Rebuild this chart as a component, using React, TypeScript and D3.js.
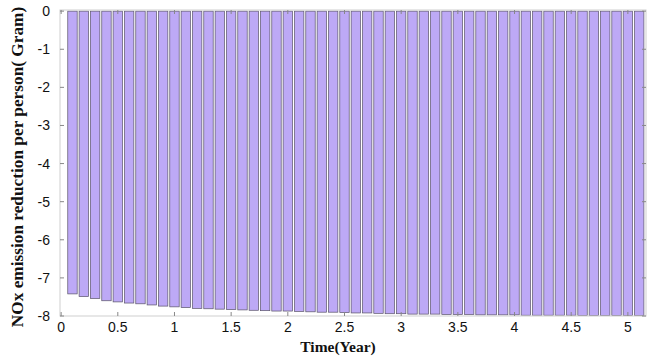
import React from "react";
import * as d3 from "d3";

const years: number[] = [
  0.1, 0.2, 0.3, 0.4, 0.5, 0.6, 0.7, 0.8, 0.9, 1.0,
  1.1, 1.2, 1.3, 1.4, 1.5, 1.6, 1.7, 1.8, 1.9, 2.0,
  2.1, 2.2, 2.3, 2.4, 2.5, 2.6, 2.7, 2.8, 2.9, 3.0,
  3.1, 3.2, 3.3, 3.4, 3.5, 3.6, 3.7, 3.8, 3.9, 4.0,
  4.1, 4.2, 4.3, 4.4, 4.5, 4.6, 4.7, 4.8, 4.9, 5.0, 5.1,
];

const reduction: number[] = [
  -7.42, -7.49, -7.54, -7.6, -7.63, -7.66, -7.68, -7.71, -7.74, -7.76,
  -7.78, -7.8, -7.81, -7.82, -7.83, -7.84, -7.85, -7.86, -7.87, -7.87,
  -7.88, -7.89, -7.9, -7.9, -7.91, -7.92, -7.92, -7.93, -7.94, -7.94,
  -7.95, -7.95, -7.95, -7.96, -7.96, -7.96, -7.97, -7.97, -7.97, -7.97,
  -7.98, -7.98, -7.98, -7.98, -7.98, -7.99, -7.99, -7.99, -7.99, -7.99, -7.99,
];

const xTicks: number[] = [0, 0.5, 1, 1.5, 2, 2.5, 3, 3.5, 4, 4.5, 5];
const yTicks: number[] = [0, -1, -2, -3, -4, -5, -6, -7, -8];

const xLabel = "Time(Year)";
const yLabel = "NOx emission reduction per person( Gram)";

const W = 648;
const H = 357;
const left = 60;
const right = 646;
const top = 10;
const bottom = 316;

export default function App() {
  const x = d3.scaleLinear().domain([-0.01, 5.16]).range([left, right]);
  const y = d3.scaleLinear().domain([-8, 0.03]).range([bottom, top]);
  const barW = x(0.083) - x(0);
  const tickFont = "'Liberation Sans', Arial, sans-serif";
  const titleFont = "'Liberation Serif', 'Times New Roman', serif";

  return (
    <svg
      width={W}
      height={H}
      style={{ position: "absolute", left: 0, top: 0, background: "#fff" }}
    >
      {years.map((t, i) => (
        <rect
          key={i}
          x={x(t) - barW / 2}
          y={y(0)}
          width={barW}
          height={y(reduction[i]) - y(0)}
          fill="#bda9f6"
          stroke="#5a5468"
          strokeWidth={0.7}
        />
      ))}
      <rect
        x={left}
        y={top}
        width={right - left}
        height={bottom - top}
        fill="none"
        stroke="#cfcfcf"
        strokeWidth={1}
      />
      {xTicks.map((t) => (
        <g key={"x" + t}>
          <line x1={x(t)} x2={x(t)} y1={bottom} y2={bottom - 4} stroke="#888" />
          <line x1={x(t)} x2={x(t)} y1={top} y2={top + 4} stroke="#888" />
          <text
            x={x(t)}
            y={332}
            textAnchor="middle"
            fontFamily={tickFont}
            fontSize={14}
            fill="#111"
          >
            {t}
          </text>
        </g>
      ))}
      {yTicks.map((t) => (
        <g key={"y" + t}>
          <line x1={left} x2={left + 4} y1={y(t)} y2={y(t)} stroke="#888" />
          <line x1={right} x2={right - 4} y1={y(t)} y2={y(t)} stroke="#888" />
          <text
            x={50}
            y={y(t) + 5}
            textAnchor="end"
            fontFamily={tickFont}
            fontSize={14}
            fill="#111"
          >
            {t}
          </text>
        </g>
      ))}
      <text
        x={338}
        y={352}
        textAnchor="middle"
        fontFamily={titleFont}
        fontWeight="bold"
        fontSize={15.5}
        fill="#111"
      >
        {xLabel}
      </text>
      <text
        transform={`translate(23, ${(top + bottom) / 2 + 4}) rotate(-90)`}
        textAnchor="middle"
        fontFamily={titleFont}
        fontWeight="bold"
        fontSize={17.3}
        fill="#111"
      >
        {yLabel}
      </text>
    </svg>
  );
}
